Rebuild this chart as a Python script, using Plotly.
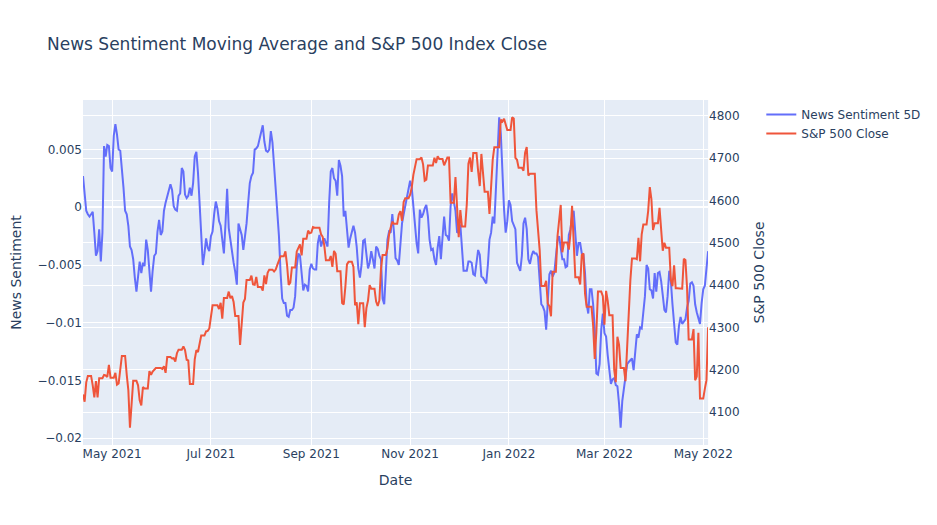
import pandas as pd
import plotly.graph_objects as go
from plotly.subplots import make_subplots

# daily calendar dates shared by both series
dates = pd.date_range("2021-04-13", "2022-05-04", freq="D")

# 5-day moving average of news sentiment, one value per calendar day
sentiment_5d = [
    0.0027, 0.0010, -0.0003, -0.0006, -0.0008, -0.0006, -0.0004, -0.0022, -0.0042, -0.0038,
    -0.0019, -0.0047, -0.0022, 0.0053, 0.0044, 0.0054, 0.0053, 0.0034, 0.0031, 0.0062,
    0.0072, 0.0063, 0.0050, 0.0049, 0.0036, 0.0017, -0.0003, -0.0006, -0.0016, -0.0034,
    -0.0037, -0.0045, -0.0061, -0.0073, -0.0060, -0.0047, -0.0057, -0.0048, -0.0051, -0.0028,
    -0.0037, -0.0060, -0.0073, -0.0055, -0.0042, -0.0040, -0.0021, -0.0011, -0.0024, -0.0021,
    -0.0003, 0.0004, 0.0010, 0.0015, 0.0020, 0.0015, 0.0001, -0.0002, -0.0003, 0.0010,
    0.0012, 0.0034, 0.0031, 0.0011, 0.0008, 0.0010, 0.0017, 0.0010, 0.0021, 0.0044,
    0.0048, 0.0030, 0.0001, -0.0028, -0.0050, -0.0040, -0.0027, -0.0035, -0.0038, -0.0025,
    -0.0021, -0.0006, 0.0005, -0.0001, -0.0012, -0.0016, -0.0027, -0.0040, -0.0014, 0.0016,
    -0.0018, -0.0029, -0.0042, -0.0048, -0.0056, -0.0067, -0.0014, -0.0020, -0.0024, -0.0037,
    -0.0025, -0.0014, 0.0004, 0.0021, 0.0027, 0.0030, 0.0050, 0.0051, 0.0053, 0.0059,
    0.0064, 0.0071, 0.0057, 0.0049, 0.0048, 0.0050, 0.0066, 0.0056, 0.0036, 0.0018,
    -0.0002, -0.0025, -0.0057, -0.0079, -0.0083, -0.0083, -0.0094, -0.0095, -0.0089, -0.0089,
    -0.0087, -0.0077, -0.0051, -0.0040, -0.0042, -0.0058, -0.0072, -0.0067, -0.0068, -0.0073,
    -0.0054, -0.0049, -0.0053, -0.0054, -0.0054, -0.0031, -0.0024, -0.0034, -0.0029, -0.0027,
    -0.0030, -0.0034, 0.0004, 0.0031, 0.0034, 0.0025, 0.0023, 0.0010, 0.0041, 0.0036,
    0.0027, -0.0008, -0.0003, -0.0018, -0.0035, -0.0027, -0.0022, -0.0016, -0.0022, -0.0034,
    -0.0053, -0.0061, -0.0050, -0.0029, -0.0028, -0.0041, -0.0053, -0.0048, -0.0038, -0.0045,
    -0.0053, -0.0034, -0.0036, -0.0042, -0.0045, -0.0079, -0.0084, -0.0057, -0.0028, -0.0021,
    -0.0022, -0.0006, -0.0021, -0.0044, -0.0046, -0.0050, -0.0031, -0.0014, -0.0006, 0.0001,
    0.0007, 0.0014, 0.0023, 0.0017, 0.0001, -0.0018, -0.0031, -0.0040, -0.0002, -0.0009,
    -0.0006, -0.0001, 0.0002, -0.0008, -0.0028, -0.0037, -0.0036, -0.0045, -0.0050, -0.0035,
    -0.0025, -0.0045, -0.0022, -0.0008, -0.0024, -0.0025, -0.0029, 0.0001, 0.0012, 0.0004,
    -0.0003, -0.0022, -0.0021, -0.0015, -0.0034, -0.0055, -0.0055, -0.0055, -0.0047, -0.0047,
    -0.0048, -0.0058, -0.0059, -0.0047, -0.0037, -0.0041, -0.0060, -0.0061, -0.0063, -0.0066,
    -0.0050, -0.0028, -0.0022, -0.0008, -0.0014, 0.0021, 0.0054, 0.0078, 0.0064, 0.0030,
    -0.0002, -0.0022, -0.0012, 0.0006, 0.0002, -0.0012, -0.0015, -0.0019, -0.0048, -0.0051,
    -0.0055, -0.0042, -0.0014, -0.0009, -0.0019, -0.0045, -0.0049, -0.0042, -0.0038, -0.0040,
    -0.0040, -0.0043, -0.0066, -0.0084, -0.0086, -0.0090, -0.0106, -0.0086, -0.0058, -0.0055,
    -0.0060, -0.0057, -0.0044, -0.0029, -0.0025, -0.0037, -0.0045, -0.0045, -0.0052, -0.0051,
    -0.0024, -0.0019, -0.0008, -0.0003, -0.0019, -0.0042, -0.0031, -0.0031, -0.0040, -0.0041,
    -0.0057, -0.0084, -0.0092, -0.0071, -0.0071, -0.0084, -0.0106, -0.0144, -0.0145, -0.0136,
    -0.0106, -0.0092, -0.0109, -0.0112, -0.0128, -0.0142, -0.0153, -0.0149, -0.0148, -0.0154,
    -0.0155, -0.0170, -0.0191, -0.0168, -0.0158, -0.0147, -0.0136, -0.0134, -0.0132, -0.0131,
    -0.0141, -0.0122, -0.0110, -0.0113, -0.0104, -0.0105, -0.0092, -0.0077, -0.0050, -0.0053,
    -0.0071, -0.0072, -0.0079, -0.0057, -0.0073, -0.0057, -0.0056, -0.0064, -0.0076, -0.0089,
    -0.0091, -0.0077, -0.0055, -0.0064, -0.0084, -0.0105, -0.0117, -0.0119, -0.0103, -0.0095,
    -0.0101, -0.0099, -0.0097, -0.0087, -0.0081, -0.0066, -0.0065, -0.0068, -0.0084, -0.0091,
    -0.0096, -0.0101, -0.0083, -0.0071, -0.0068, -0.0054, -0.0038,
]

# NYSE closed days inside the window
market_holidays = [
    "2021-05-31", "2021-07-05", "2021-09-06", "2021-11-25",
    "2021-12-24", "2022-01-17", "2022-02-21", "2022-04-15",
]

# S&P 500 close, one value per trading day
sp500_close = [
    # Apr 2021
    4141.59, 4124.66, 4170.42, 4185.47, 4163.26, 4134.94, 4173.42, 4134.98, 4180.17,
    4187.62, 4186.72, 4183.18, 4211.47, 4181.17,
    # May 2021
    4192.66, 4164.66, 4167.59, 4201.62, 4232.60, 4188.43, 4152.10, 4063.04, 4112.50, 4173.85,
    4163.29, 4127.83, 4115.68, 4159.12, 4155.86, 4197.05, 4188.13, 4195.99, 4200.88, 4204.11,
    # Jun 2021
    4202.04, 4208.12, 4192.85, 4229.89, 4226.52, 4227.26, 4219.55, 4239.18, 4247.44, 4255.15,
    4246.59, 4223.70, 4221.86, 4166.45, 4224.79, 4246.44, 4241.84, 4266.49, 4280.70, 4290.61,
    4291.80, 4297.50,
    # Jul 2021
    4319.94, 4352.34, 4343.54, 4358.13, 4320.82, 4369.55, 4384.63, 4369.21, 4374.30, 4360.03,
    4327.16, 4258.49, 4323.06, 4358.69, 4367.48, 4411.79, 4422.30, 4401.46, 4400.64, 4419.15,
    4395.26,
    # Aug 2021
    4387.16, 4423.15, 4402.66, 4429.10, 4436.52, 4432.35, 4436.75, 4447.70, 4460.83, 4468.00,
    4479.71, 4448.08, 4400.27, 4405.80, 4441.67, 4479.53, 4486.23, 4496.19, 4470.00, 4509.37,
    4528.79, 4522.68,
    # Sep 2021
    4524.09, 4536.95, 4535.43, 4520.03, 4514.07, 4493.28, 4458.58, 4468.73, 4443.05, 4480.70,
    4473.75, 4432.99, 4357.73, 4354.19, 4395.64, 4448.98, 4455.48, 4443.11, 4352.63, 4359.46,
    4307.54,
    # Oct 2021
    4357.04, 4300.46, 4345.72, 4363.55, 4399.76, 4391.34, 4361.19, 4350.65, 4363.80, 4438.26,
    4471.37, 4486.46, 4519.63, 4536.19, 4549.78, 4544.90, 4566.48, 4574.79, 4551.68, 4596.42,
    4605.38,
    # Nov 2021
    4613.67, 4630.65, 4660.57, 4680.06, 4697.53, 4701.70, 4685.25, 4646.71, 4649.27, 4682.85,
    4682.80, 4700.90, 4688.67, 4704.54, 4697.96, 4682.94, 4690.70, 4701.46, 4594.62, 4655.27,
    4567.00,
    # Dec 2021
    4513.04, 4577.10, 4538.43, 4591.67, 4686.75, 4701.21, 4667.45, 4712.02, 4668.97, 4634.09,
    4709.85, 4668.67, 4620.64, 4568.02, 4649.23, 4696.56, 4725.79, 4791.19, 4786.35, 4793.06,
    4778.73, 4766.18,
    # Jan 2022
    4796.56, 4793.54, 4700.58, 4696.05, 4677.03, 4670.29, 4713.07, 4726.35, 4659.03, 4662.85,
    4577.11, 4532.76, 4482.73, 4397.94, 4410.13, 4356.45, 4349.93, 4326.51, 4431.85, 4515.55,
    # Feb 2022
    4546.54, 4589.38, 4477.44, 4500.53, 4483.87, 4521.54, 4587.18, 4504.08, 4418.64, 4401.67,
    4471.07, 4475.01, 4380.26, 4348.87, 4304.76, 4225.50, 4288.70, 4384.65, 4373.94,
    # Mar 2022
    4306.26, 4386.54, 4363.49, 4328.87, 4201.09, 4170.70, 4277.88, 4259.52, 4204.31, 4173.11,
    4262.45, 4357.86, 4411.67, 4463.12, 4461.18, 4511.61, 4456.24, 4520.16, 4543.06, 4575.52,
    4631.60, 4602.45, 4530.41,
    # Apr 2022
    4545.86, 4582.64, 4525.12, 4481.15, 4500.21, 4488.28, 4412.53, 4397.45, 4446.59, 4392.59,
    4391.69, 4462.21, 4459.45, 4393.66, 4271.78, 4296.12, 4175.20, 4183.96, 4287.50, 4131.93,
    # May 2022
    4155.38, 4175.48, 4300.17,
]

trading_days = pd.bdate_range(
    "2021-04-13", "2022-05-04", freq="C", holidays=market_holidays
)
# market closes carried over weekends/holidays onto the daily calendar
sp500 = pd.Series(sp500_close, index=trading_days).reindex(dates).ffill()

fig = make_subplots(specs=[[{"secondary_y": True}]])
fig.add_trace(
    go.Scatter(x=dates, y=sentiment_5d, mode="lines", name="News Sentiment 5D"),
    secondary_y=False,
)
fig.add_trace(
    go.Scatter(x=dates, y=sp500, mode="lines", name="S&P 500 Close"),
    secondary_y=True,
)

# page body adds an 8px offset, so the figure is trimmed to sit like the original
fig.update_layout(
    title=dict(
        text="News Sentiment Moving Average and S&P 500 Index Close",
        x=0.042,
        y=0.93,
        yanchor="middle",
    ),
    font=dict(family="DejaVu Sans"),
    width=929,
    height=517,
    margin=dict(l=75, t=92),
)
fig.update_xaxes(title_text="Date")
fig.update_yaxes(title_text="News Sentiment", automargin=False, secondary_y=False)
fig.update_yaxes(title_text="S&P 500 Close", secondary_y=True)

fig.write_html("out.html")
